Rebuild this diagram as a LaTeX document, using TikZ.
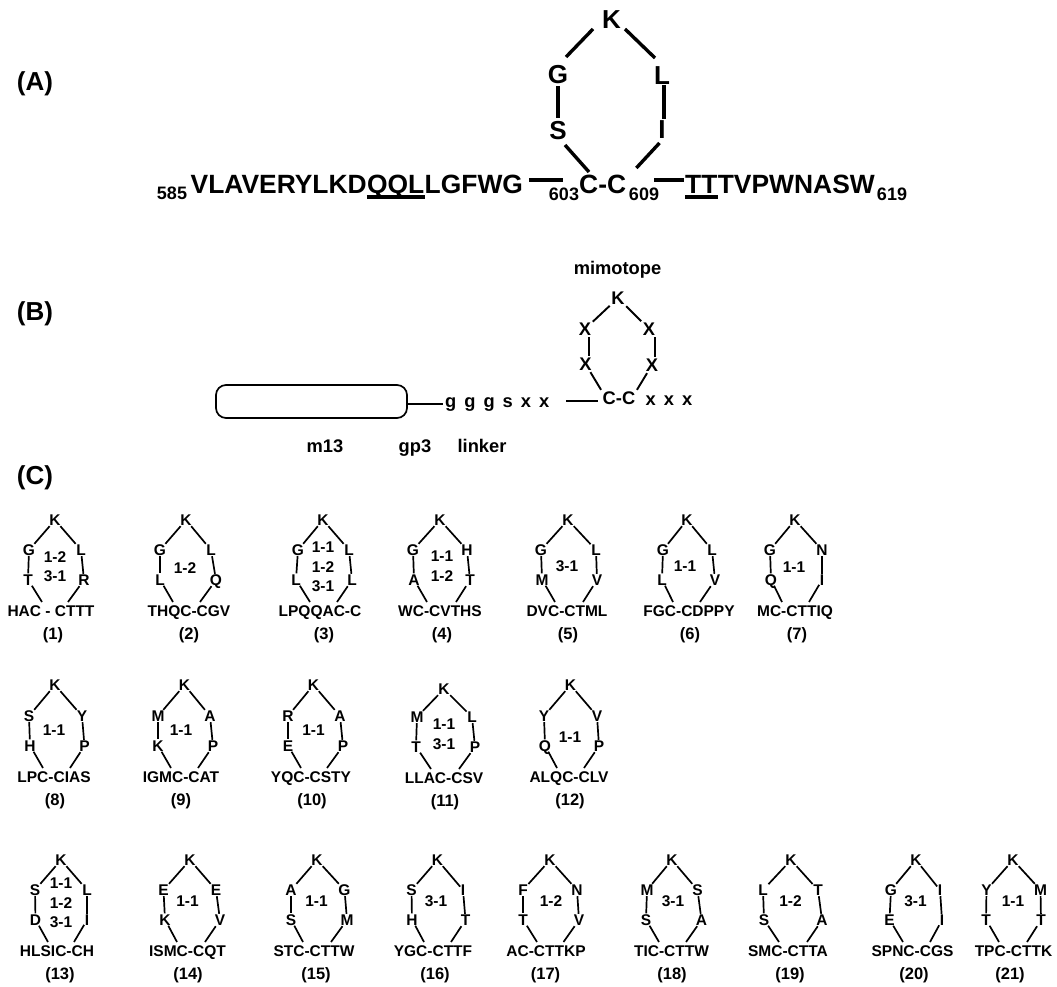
\documentclass[tikz,border=0pt]{standalone}
\usepackage{fontspec}
\setmainfont{Liberation Sans}
\newcommand{\widegap}{\spaceskip=8pt\relax}
\tikzset{
    peplet/.style={font=\fontsize{15.5}{19.5}\selectfont\bfseries, inner sep=0.5pt, text height=11pt, text depth=0pt},
    peptag/.style={font=\fontsize{16.5}{19.5}\selectfont\bfseries, inner sep=0pt},
    peplab/.style={font=\fontsize{15.5}{19.5}\selectfont\bfseries, inner sep=0pt, align=center},
    panlab/.style={font=\fontsize{26}{26}\selectfont\bfseries, inner sep=0pt},
    biglet/.style={font=\fontsize{26}{26}\selectfont\bfseries, inner sep=3pt, text height=18.5pt, text depth=0pt},
    seqtxt/.style={font=\fontsize{26.4}{26}\selectfont\bfseries, inner sep=0pt, anchor=base west},
    seqnum/.style={font=\fontsize{18}{18}\selectfont\bfseries, inner sep=0pt},
    midlet/.style={font=\fontsize{18.3}{18.3}\selectfont\bfseries, inner sep=1.5pt, text height=13pt, text depth=0pt},
    pepline/.style={line width=1.7pt},
    bigline/.style={line width=3.4pt},
    midline/.style={line width=1.9pt}
}
\begin{document}
\begin{tikzpicture}[x=1pt, y=-1pt]
    \useasboundingbox (0,0) rectangle (1057,987);

    % Panel A
    \node[panlab] (pana) at (35,84) {(A)};
    \node[biglet] (ka) at (611.5,19) {K};
    \node[biglet] (ga) at (558,74) {G};
    \node[biglet] (la) at (662,75) {L};
    \node[biglet] (sa) at (558,130) {S};
    \node[biglet] (ia) at (662,129) {I};
    \node[seqnum] (n585) at (172,193) {585};
    \node[seqtxt] (seqa) at (190.5,194) {VLAVERYLKD};
    \node[seqtxt] (seqb) at (seqa.base east) {QQL};
    \node[seqtxt] (seqc) at (seqb.base east) {LGFWG};
    \node[seqnum] (n603) at (564,194) {603};
    \node[seqtxt] (cca) at (579,194) {C-C};
    \node[seqnum] (n609) at (644,194) {609};
    \node[seqtxt] (seqd) at (685,194) {TT};
    \node[seqtxt] (seqe) at (seqd.base east) {TVPWNASW};
    \node[seqnum] (n619) at (892,194) {619};
    \draw[bigline] ([shift={(-18.5,10)}]ka.center) -- ([shift={(8,-17)}]ga.center);
    \draw[bigline] ([shift={(13.5,10)}]ka.center) -- ([shift={(-7,-17)}]la.center);
    \draw[bigline] (ga) -- (sa);
    \draw[bigline] ([shift={(2,10)}]la.center) -- ([shift={(2,-10)}]ia.center);
    \draw[bigline] ([shift={(7,15)}]sa.center) -- ([shift={(10,-22)}]cca.base west);
    \draw[bigline] ([shift={(-2.5,14)}]ia.center) -- ([shift={(10,-26)}]cca.base east);
    \draw[bigline] ([shift={(6,-14)}]seqc.base east) -- ([shift={(-16,-14)}]cca.base west);
    \draw[bigline] ([shift={(28,-14)}]cca.base east) -- ([shift={(-1,-14)}]seqd.base west);
    \draw[bigline] ([shift={(0,3)}]seqb.base west) -- ([shift={(0,3)}]seqb.base east);
    \draw[bigline] ([shift={(0,3)}]seqd.base west) -- ([shift={(0,3)}]seqd.base east);

    % Panel B
    \node[panlab] (panb) at (35,314) {(B)};
    \node[midlet] (mimo) at (617.5,268) {mimotope};
    \node[midlet] (kb) at (618,298) {K};
    \node[midlet] (xul) at (585,329) {X};
    \node[midlet] (xur) at (649,329) {X};
    \node[midlet] (xll) at (585.5,364) {X};
    \node[midlet] (xlr) at (652,365) {X};
    \node[midlet] (ccb) at (619,398) {C-C};
    \node[midlet, anchor=west, inner sep=0pt] (xxx) at (645.5,398.5) {\widegap x x x};
    \node[draw, line width=1.7pt, rounded corners=10pt, minimum width=191pt, minimum height=33pt, inner sep=0pt] (m13box) at (311.5,401.5) {};
    \node[midlet, anchor=west, inner sep=0pt] (link) at (445,401) {\widegap g g g s x x};
    \node[midlet] (m13) at (325,446) {m13};
    \node[midlet] (gp3) at (415,446) {gp3};
    \node[midlet] (linker) at (482,446) {linker};
    \draw[midline] (kb) -- (xul);
    \draw[midline] (kb) -- (xur);
    \draw[midline] ([shift={(4,0)}]xul.south) -- ([shift={(4,0)}]xul.south |- xll.north);
    \draw[midline] ([shift={(6,0)}]xur.south) -- ([shift={(6,0)}]xur.south |- xlr.north);
    \draw[midline] (xll) -- (ccb.north west);
    \draw[midline] (xlr) -- (ccb.north east);
    \draw[line width=1.5pt] ([shift={(0,2.5)}]m13box.east) -- ([shift={(-2,2.5)}]m13box.east -| link.west);
    \draw[line width=1.5pt] ([shift={(17,3)}]link.east |- ccb.west) -- ([shift={(-3,3)}]ccb.west);

    % Panel C
    \node[panlab] (panc) at (35,478) {(C)};
    \foreach \nm/\ky/\ry/\kx/\ulx/\urx/\llx/\lrx/\blx/\brx/\botx/\tagx/\labx/\laby/\ula/\ura/\lla/\lra/\pep/\lab in {
        1/520/520/55/29/81/28/84/42/68/51/53/55/566.5/G/L/T/R/{HAC - CTTT}/{1-2\\3-1},
        2/520/520/186/160/211/160/216/173/200/189/189/185/568/G/L/L/Q/{THQC-CGV}/{1-2},
        3/520/520/323/298/349/296/352/310/337/320/324/323/567/G/L/L/L/{LPQQAC-C}/{1-1\\1-2\\3-1},
        4/520/520/440/413/467/414/470/427/456/440/442/442/566/G/H/A/T/{WC-CVTHS}/{1-1\\1-2},
        5/520/520/568/541/596/542/597/555/583/567/568/567/566/G/L/M/V/{DVC-CTML}/{3-1},
        6/520/520/687/663/712/662/715/673/700/689/690/685/566/G/L/L/V/{FGC-CDPPY}/{1-1},
        7/520/520/795/770/822/771/822/782/809/795/797/794/567/G/N/Q/I/{MC-CTTIQ}/{1-1},
        8/685/686/55/29/82/30/84.5/43/70/54/55/54/730/S/Y/H/P/{LPC-CIAS}/{1-1},
        9/685/686/184.5/158/210/158/213/171/198/181/181/181/730/M/A/K/P/{IGMC-CAT}/{1-1},
        10/685/686/313.5/288/340/288/343/301/327/311/312/313.5/730/R/A/E/P/{YQC-CSTY}/{1-1},
        11/689/687/444/417/472/416/475/431/459/444/445/444/734/M/L/T/P/{LLAC-CSV}/{1-1\\3-1},
        12/685/686/570.5/544/597/545/599/557/584/569/570/570/737/Y/V/Q/P/{ALQC-CLV}/{1-1},
        13/860/860/61/35/87/35.5/87/48/74/57/60/61/903/S/L/D/I/{HLSIC-CH}/{1-1\\1-2\\3-1},
        14/860/860/190/163.5/216/165/220/177/205/187.5/188/187.5/901/E/E/K/V/{ISMC-CQT}/{1-1},
        15/860/860/317/291/344.5/291/347/303/331/314/316/316.5/901/A/G/S/M/{STC-CTTW}/{1-1},
        16/860/860/437.5/411.5/463/412/465.5/424/451/433/435/436/901/S/I/H/T/{YGC-CTTF}/{3-1},
        17/860/860/550/523/577/523/579/537/563.5/546/545.5/551/901/F/N/T/V/{AC-CTTKP}/{1-2},
        18/860/860/672/647/697.5/646/701.5/659/686/671.5/672/673/901/M/S/S/A/{TIC-CTTW}/{3-1},
        19/860/860/791/763/818/764/822/779/807/788/790/790.5/901/L/T/S/A/{SMC-CTTA}/{1-2},
        20/860/860/916/891/940/889.5/942/903/930/912.5/914/915.5/901/G/I/E/I/{SPNC-CGS}/{3-1},
        21/860/860/1013/986.5/1040.5/986/1041/999/1027/1013.5/1010/1013/901/Y/M/T/T/{TPC-CTTK}/{1-1}}
    {
        \node[peplet] (k\nm) at (\kx,\ky) {K};
        \node[peplet] (ul\nm) at (\ulx,\ry+30) {\ula};
        \node[peplet] (ur\nm) at (\urx,\ry+30) {\ura};
        \node[peplet] (ll\nm) at (\llx,\ry+59.5) {\lla};
        \node[peplet] (lr\nm) at (\lrx,\ry+60) {\lra};
        \node[peplet] (bot\nm) at (\botx,\ry+91) {\pep};
        \node[peptag] (tag\nm) at (\tagx,\ry+115) {(\nm)};
        \node[peplab] (lab\nm) at (\labx,\laby) {\lab};
        \coordinate (bl\nm) at (\blx,\ry+82);
        \coordinate (br\nm) at (\brx,\ry+82);
        \draw[pepline] (k\nm) -- (ul\nm);
        \draw[pepline] (k\nm) -- (ur\nm);
        \draw[pepline] (ul\nm) -- (ll\nm);
        \draw[pepline] (ur\nm) -- (lr\nm);
        \draw[pepline] (ll\nm) -- (bl\nm);
        \draw[pepline] (lr\nm) -- (br\nm);
    }
\end{tikzpicture}
\end{document}
